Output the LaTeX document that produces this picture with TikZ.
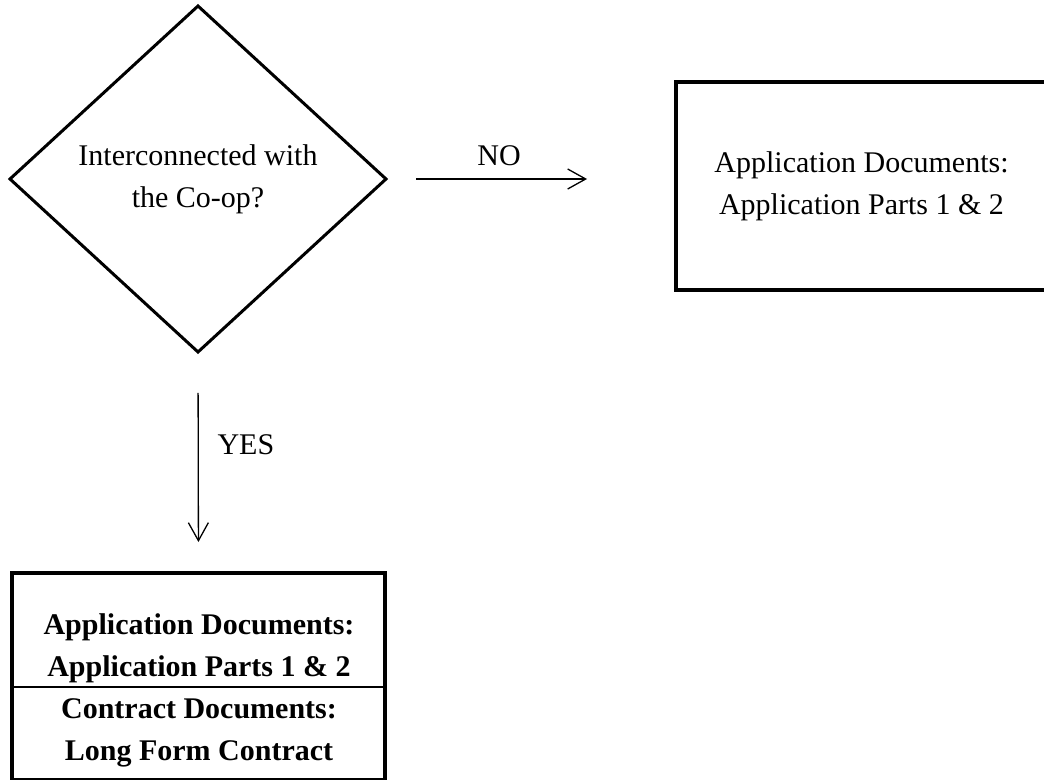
\documentclass[tikz,border=0pt]{standalone}
\usepackage{fontspec}
\setmainfont{Liberation Serif}
\usetikzlibrary{shapes.geometric,arrows.meta}

\begin{document}
\begin{tikzpicture}[x=0.5pt, y=-0.5pt,
  txt/.style={font=\fontsize{15}{21}\selectfont, align=center},
  decision/.style={diamond, draw, line width=1.5pt, outer sep=0pt, inner sep=0pt,
    minimum width=188pt, minimum height=173pt, txt},
  docbox/.style={rectangle, draw, line width=2pt, outer sep=0pt, txt},
  flow/.style={line width=0.65pt, -{Straight Barb[length=9pt,width=10pt]}}]
\useasboundingbox (0,0) rectangle (1044,780);

\node[decision] (dec) at (198,179) {Interconnected with\\the Co-op?};
\node[docbox, minimum width=185.5pt, minimum height=104pt] (app) at (861.5,186)
  {Application Documents:\\Application Parts 1 \& 2};
\node[docbox, minimum width=186.5pt, minimum height=103.5pt] (yes) at (198.5,676.5) {};
\node[txt, font=\fontsize{15}{21}\selectfont\bfseries] (yesapp) at (199,648)
  {Application Documents:\\Application Parts 1 \& 2};
\node[txt, font=\fontsize{15}{21}\selectfont\bfseries] (yescon) at (199,733)
  {Contract Documents:\\Long Form Contract};
\draw[line width=1pt] (yes.west |- 0,687) -- (yes.east |- 0,687);

% the two ways out of the question
\draw[flow, shorten <=15pt, shorten >=44.5pt] (dec.east) --
  node[txt, pos=0.39, above=3pt] (no) {NO} (dec.east -| app.west);
\draw[flow, shorten <=20.5pt, shorten >=15.5pt] (dec.south) --
  node[txt, pos=0.42, right=6pt] (yeslbl) {YES} (yes.north);
\end{tikzpicture}
\end{document}
